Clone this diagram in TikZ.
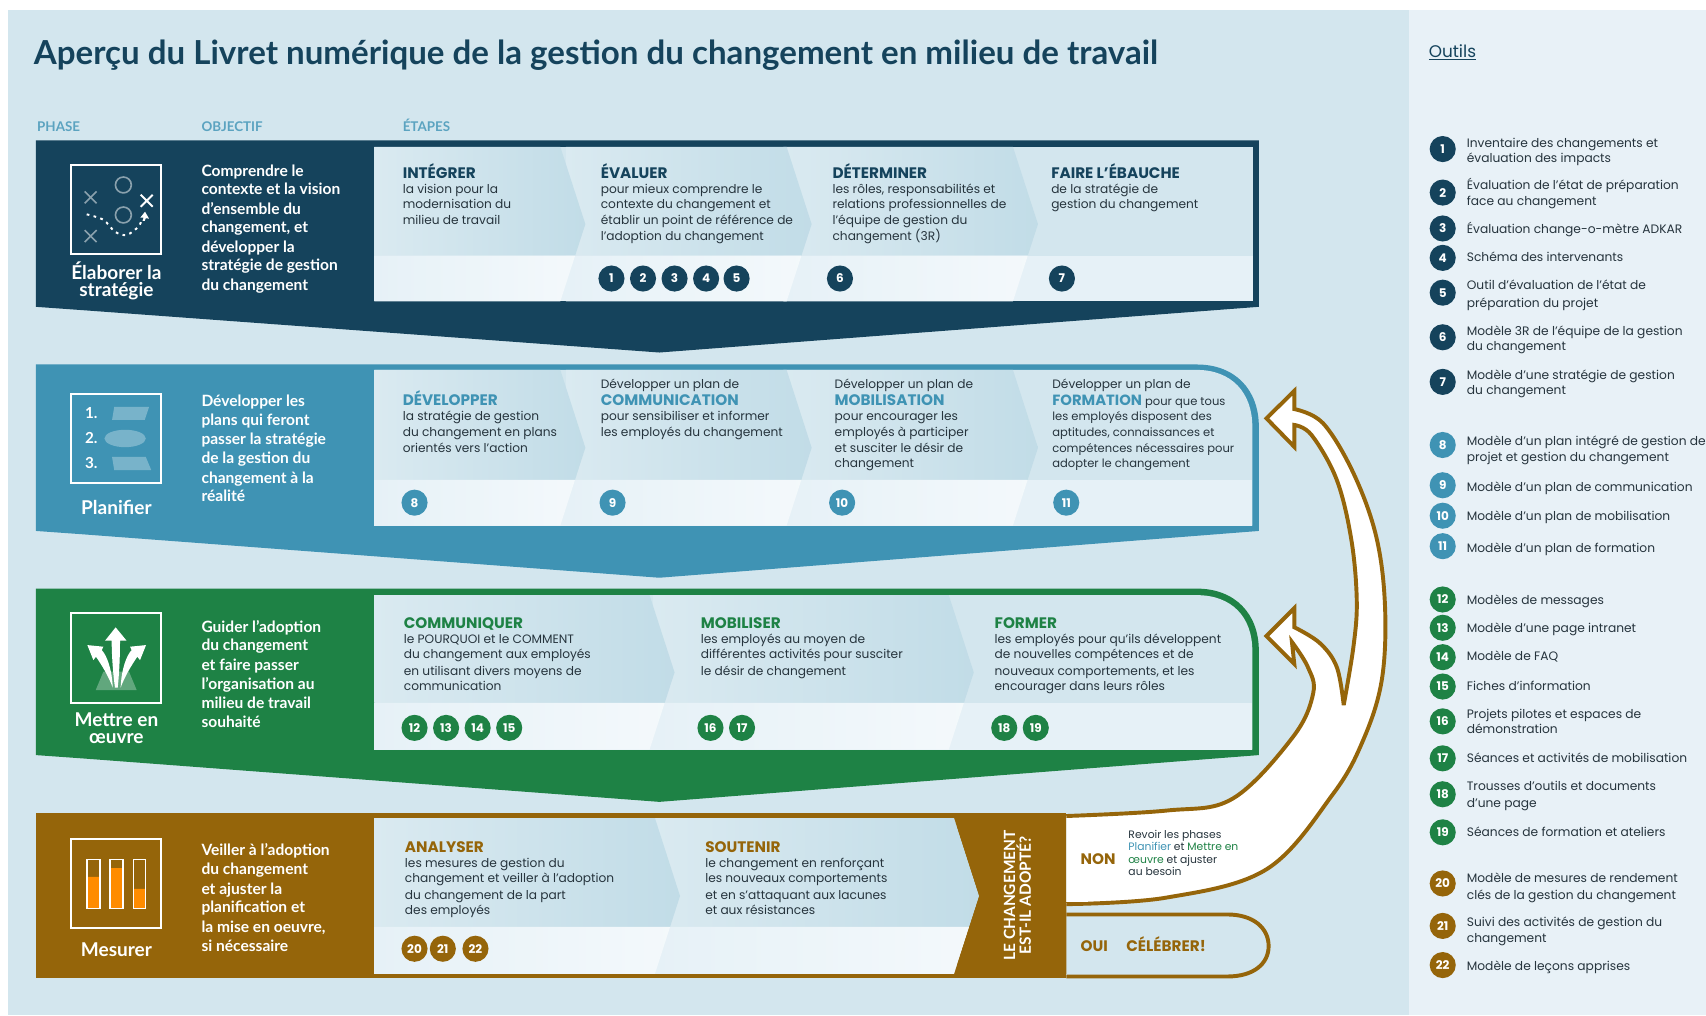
\documentclass[tikz,border=0pt]{standalone}
\usepackage{fontspec}
\setmainfont{Poppins}
\newfontfamily\lat{Lato}
\usetikzlibrary{shapes.geometric}
\definecolor{cdark}{HTML}{15435C}
\definecolor{cblue}{HTML}{3F93B4}
\definecolor{cgreen}{HTML}{1E8245}
\definecolor{cbrown}{HTML}{95650A}
\definecolor{cbg}{HTML}{D3E6EE}
\definecolor{cside}{HTML}{E8F1F7}
\definecolor{cstrip}{HTML}{E6F1F7}
\definecolor{chead}{HTML}{5BA3C0}
\definecolor{ctext}{HTML}{26343D}
\newcount\tn
\tikzset{
  txt/.style={anchor=mid west,inner sep=0pt,yshift=-1.7pt,font=\fontsize{11.2}{12}\selectfont,text=ctext},
  nar/.style={font=\fontsize{10.6}{12}\selectfont},
  hd/.style={yshift=-1.2pt,font=\fontsize{14}{14}\selectfont\bfseries},
  col/.style={font=\lat\fontsize{12.3}{14}\selectfont\bfseries,text=chead},
  obj/.style={yshift=-1.5pt,font=\lat\fontsize{14.3}{16}\selectfont\bfseries,text=white},
  phs/.style={anchor=center,inner sep=0pt,align=center,font=\lat\fontsize{17.5}{15.5}\selectfont\bfseries,text=white},
  bdg/.style={circle,fill=#1,text=white,inner sep=0pt,minimum size=24pt,font=\fontsize{11}{12}\selectfont\bfseries},
  tool/.style={font=\fontsize{11.25}{12}\selectfont},
  nonsm/.style={font=\fontsize{9.9}{10}\selectfont},
  ico/.style={draw=white,line width=2pt},
}
\newcommand\tx[4][]{\global\advance\tn by 1 \node[txt,#1] (t\the\tn) at (#2,#3) {#4};}
\newcommand\bd[4]{\global\advance\tn by 1 \node[bdg=#1] (t\the\tn) at (#2,#3) {#4};}
% section: xL xR top strip bottom
\newcommand\sect[5]{%
  \pgfmathsetmacro\mm{(#3+#5)/2}%
  \pgfmathsetmacro\tp{#2+23}%
  \pgfmathsetmacro\sx{#2+23*(#5-#4)/(#5-\mm)}%
  \shade[left color=white!16!cbg,middle color=white!2!cbg!96!black,right color=cbg!88!cblue] (#1,#3) -- (#2,#3) -- (\tp,\mm) -- (\sx,#4) -- (#1,#4) -- cycle;
  \shade[left color=cstrip,right color=white!55!cstrip] (#1,#4) -- (\sx,#4) -- (#2,#5) -- (#1,#5) -- cycle;
}
\begin{document}
\begin{tikzpicture}[x=1pt,y=-1pt]
\useasboundingbox (0,0) rectangle (1568,933);
\fill[white] (0,0) rectangle (1568,933);
\fill[cbg] (7,9) rectangle (1295,933);
\fill[cside] (1295,9) rectangle (1568,933);

% title and column heads
\tx[font=\lat\fontsize{30.4}{32}\selectfont\bfseries,text=cdark,yshift=-6.5pt]{31}{48}{Aperçu du Livret numérique de la gestion du changement en milieu de travail}
\tx[col]{34}{116}{PHASE}
\tx[col]{185}{116}{OBJECTIF}
\tx[col]{370}{116}{ÉTAPES}

% bands
\fill[cdark] (33,129) -- (1157,129) -- (1157,282) -- (606,324) -- (75,285) -- (33,282) -- cycle;
\fill[cblue] (33,335) -- (1100,335) .. controls (1135,335) and (1157,358) .. (1157,392) -- (1157,488) -- (606,531) -- (75,491) -- (33,488) -- cycle;
\fill[cgreen] (33,541) -- (1100,541) .. controls (1135,541) and (1157,564) .. (1157,598) -- (1157,694) -- (606,737) -- (75,697) -- (33,694) -- cycle;
\fill[cbrown] (33,747) rectangle (980,899);

% panels
\fill[cbg] (344,135) rectangle (1152,277);
\fill[cbg] (344,340) -- (1100,340) .. controls (1132,340) and (1151,361) .. (1151,392) -- (1151,483) -- (344,483) -- cycle;
\fill[cbg] (344,547) -- (1100,547) .. controls (1132,547) and (1151,567) .. (1151,598) -- (1151,689) -- (344,689) -- cycle;
\fill[cstrip] (344,235) rectangle (1152,277);
\fill[cstrip] (344,441) rectangle (1151,483);
\fill[cstrip] (344,646) rectangle (1151,689);

\sect{720}{931}{135}{235}{277}\sect{520}{723}{135}{235}{277}\sect{344}{515}{135}{235}{277}
\sect{720}{931}{340}{441}{483}\sect{520}{723}{340}{441}{483}\sect{344}{515}{340}{441}{483}
\sect{600}{872}{547}{646}{689}\sect{344}{597}{547}{646}{689}
\fill[cstrip] (344,852) rectangle (880,895);
\fill[cbg] (344,752) rectangle (880,852);
\sect{600}{877}{752}{852}{895}\sect{344}{602}{752}{852}{895}
\fill[cbrown] (877,752) -- (900,823.5) -- (877,895) -- (980,895) -- (980,752) -- cycle;

% icon 1
\draw[ico] (65.3,151.7) rectangle (148,233.8);
\draw[cdark!50!white,line width=1.5pt] (113.4,170) circle[radius=7.3] (113.4,197.6) circle[radius=7.3];
\draw[cdark!50!white,line width=1.5pt] (77.8,175.9) -- (88.8,186.9) (77.8,186.9) -- (88.8,175.9) (77.8,211.5) -- (88.8,222.5) (77.8,222.5) -- (88.8,211.5);
\draw[white,line width=1.8pt] (129.3,179) -- (140.3,190) (129.3,190) -- (140.3,179);
\draw[white,line width=1.8pt,dash pattern=on 2.5pt off 4pt] plot[smooth] coordinates {(79.7,197) (95,202) (105.7,213) (116.4,216) (127.2,208.4) (130.2,202)};
\fill[white] (133.3,194.6) -- (129,200) -- (132,200) -- (131,203) -- (133,203) -- (134,200.5) -- (137,201) -- cycle;
\node[phs] (plab1) at (107,258) {Élaborer la\\stratégie};

% icon 2
\draw[ico] (65.3,362) rectangle (148,444);
\tx[font=\lat\fontsize{14}{16}\selectfont\bfseries,text=white]{78}{380}{1.}
\tx[font=\lat\fontsize{14}{16}\selectfont\bfseries,text=white]{78}{403}{2.}
\tx[font=\lat\fontsize{14}{16}\selectfont\bfseries,text=white]{78}{426}{3.}
\fill[white,opacity=.3] (105,374) -- (137,374) -- (133,386) -- (103,386) -- cycle;
\fill[white,opacity=.3] (115,403) ellipse[x radius=19,y radius=8];
\fill[white,opacity=.3] (103,420) -- (134,420) -- (139,432) -- (105,432) -- cycle;
\node[phs] (plab2) at (107,466) {Planifier};

% icon 3
\draw[ico] (65.3,563.7) rectangle (148,646);
\fill[white,opacity=.3] (95,617.4) -- (118.6,617.4) -- (125.6,634.2) -- (88,634.2) -- cycle;
\fill[white] (106.3,576.6) -- (116.4,588.9) -- (110.3,588.9) .. controls (110.3,605) and (109.5,620) .. (108.2,632) -- (105.7,632) .. controls (104,620) and (102.8,605) .. (102.6,588.9) -- (96.5,588.9) -- cycle;
\fill[white] (80.3,592.9) -- (95,594.4) -- (93.5,597.5) .. controls (98,602) and (103,615) .. (103.6,632) .. controls (100,622) and (94,612) .. (88.2,603.6) -- (85.8,606.7) -- cycle;
\fill[white] (134.2,592.9) -- (119.5,594.4) -- (121,597.5) .. controls (116.5,602) and (111.5,615) .. (110.9,632) .. controls (114.5,622) and (120.5,612) .. (126.2,603.6) -- (128.7,606.7) -- cycle;
\node[phs] (plab3) at (107,669) {Mettre en\\œuvre};

% icon 4
\draw[ico] (65.3,771) rectangle (148,853);
\fill[orange!90!yellow] (80,806) rectangle (92,835) (101,798) rectangle (113,835) (123,817) rectangle (134,835);
\draw[white,line width=1.2pt] (80,790) rectangle (92,835) (101,790) rectangle (113,835) (123,790) rectangle (134,835);
\node[phs] (plab4) at (107,873) {Mesurer};

% objectives
\tx[obj]{185}{156}{Comprendre le}
\tx[obj]{185}{173}{contexte et la vision}
\tx[obj]{185}{191}{d’ensemble du}
\tx[obj]{185}{208}{changement, et}
\tx[obj]{185}{226}{développer la}
\tx[obj]{185}{243}{stratégie de gestion}
\tx[obj]{185}{261}{du changement}

\tx[obj]{185}{368}{Développer les}
\tx[obj]{185}{385}{plans qui feront}
\tx[obj]{185}{403}{passer la stratégie}
\tx[obj]{185}{420}{de la gestion du}
\tx[obj]{185}{438}{changement à la}
\tx[obj]{185}{455}{réalité}

\tx[obj]{185}{575}{Guider l’adoption}
\tx[obj]{185}{592}{du changement}
\tx[obj]{185}{610}{et faire passer}
\tx[obj]{185}{628}{l’organisation au}
\tx[obj]{185}{645}{milieu de travail}
\tx[obj]{185}{663}{souhaité}

\tx[obj]{185}{780}{Veiller à l’adoption}
\tx[obj]{185}{798}{du changement}
\tx[obj]{185}{816}{et ajuster la}
\tx[obj]{185}{833}{planification et}
\tx[obj]{185}{851}{la mise en oeuvre,}
\tx[obj]{185}{869}{si nécessaire}

% row 1 steps
\tx[hd,text=cdark]{370}{158}{INTÉGRER}
\tx{370}{173}{la vision pour la}
\tx{370}{187.5}{modernisation du}
\tx{370}{202}{milieu de travail}
\tx[hd,text=cdark]{552}{158}{ÉVALUER}
\tx{552}{173}{pour mieux comprendre le}
\tx{552}{187.5}{contexte du changement et}
\tx{552}{202}{établir un point de référence de}
\tx{552}{216.5}{l’adoption du changement}
\tx[hd,text=cdark]{765}{158}{DÉTERMINER}
\tx{765}{173}{les rôles, responsabilités et}
\tx{765}{187.5}{relations professionnelles de}
\tx{765}{202}{l’équipe de gestion du}
\tx{765}{216.5}{changement (3R)}
\tx[hd,text=cdark]{966}{158}{FAIRE L’ÉBAUCHE}
\tx{966}{173}{de la stratégie de}
\tx{966}{187.5}{gestion du changement}
\bd{cdark}{562}{256}{1}\bd{cdark}{591}{256}{2}\bd{cdark}{620}{256}{3}\bd{cdark}{649}{256}{4}\bd{cdark}{677}{256}{5}
\bd{cdark}{772}{256}{6}\bd{cdark}{976}{256}{7}

% row 2 steps
\tx[hd,text=cblue]{370}{367}{DÉVELOPPER}
\tx{370}{382}{la stratégie de gestion}
\tx{370}{396.5}{du changement en plans}
\tx{370}{411}{orientés vers l’action}
\tx{552}{353}{Développer un plan de}
\tx[hd,text=cblue]{552}{367}{COMMUNICATION}
\tx{552}{382}{pour sensibiliser et informer}
\tx{552}{396.5}{les employés du changement}
\tx{767}{353}{Développer un plan de}
\tx[hd,text=cblue]{767}{367}{MOBILISATION}
\tx{767}{382}{pour encourager les}
\tx{767}{396.5}{employés à participer}
\tx{767}{411}{et susciter le désir de}
\tx{767}{425}{changement}
\tx{967}{353}{Développer un plan de}
\tx[nar]{967}{368}{{\fontsize{13.6}{14}\selectfont\bfseries\color{cblue}FORMATION} pour que tous}
\tx[nar]{967}{382}{les employés disposent des}
\tx[nar]{967}{396.5}{aptitudes, connaissances et}
\tx[nar]{967}{411}{compétences nécessaires pour}
\tx[nar]{967}{425}{adopter le changement}
\bd{cblue}{381}{462}{8}\bd{cblue}{563}{462}{9}\bd{cblue}{774}{462}{10}\bd{cblue}{980}{462}{11}

% row 3 steps
\tx[hd,text=cgreen]{371}{572}{COMMUNIQUER}
\tx{371}{587}{le POURQUOI et le COMMENT}
\tx{371}{601}{du changement aux employés}
\tx{371}{616}{en utilisant divers moyens de}
\tx{371}{630}{communication}
\tx[hd,text=cgreen]{644}{572}{MOBILISER}
\tx{644}{587}{les employés au moyen de}
\tx{644}{601}{différentes activités pour susciter}
\tx{644}{616}{le désir de changement}
\tx[hd,text=cgreen]{914}{572}{FORMER}
\tx{914}{587}{les employés pour qu’ils développent}
\tx{914}{601}{de nouvelles compétences et de}
\tx{914}{616}{nouveaux comportements, et les}
\tx{914}{630}{encourager dans leurs rôles}
\bd{cgreen}{381}{669}{12}\bd{cgreen}{410}{669}{13}\bd{cgreen}{439}{669}{14}\bd{cgreen}{468}{669}{15}
\bd{cgreen}{653}{669}{16}\bd{cgreen}{682}{669}{17}\bd{cgreen}{923}{669}{18}\bd{cgreen}{952}{669}{19}

% row 4 steps
\tx[hd,text=cbrown]{372}{778}{ANALYSER}
\tx{372}{793}{les mesures de gestion du}
\tx{372}{807}{changement et veiller à l’adoption}
\tx{372}{822}{du changement de la part}
\tx{372}{836}{des employés}
\tx[hd,text=cbrown]{648}{778}{SOUTENIR}
\tx{648}{793}{le changement en renforçant}
\tx{648}{807}{les nouveaux comportements}
\tx{648}{822}{et en s’attaquant aux lacunes}
\tx{648}{836}{et aux résistances}
\bd{cbrown}{381}{872}{20}\bd{cbrown}{407}{872}{21}\bd{cbrown}{437}{872}{22}

\node[rotate=90,inner sep=0pt,align=center,text=white,font=\lat\fontsize{14.2}{14.5}\selectfont\bfseries] (qq) at (935,823) {LE CHANGEMENT\\EST-IL ADOPTÉ?};

% OUI tab
\draw[cbrown,line width=3.6pt] (980,840.5) -- (1128,840.5) .. controls (1152,840.5) and (1166,853) .. (1166,869.5) .. controls (1166,886) and (1152,897.5) .. (1128,897.5) -- (980,897.5);

% big white arrow
\draw[cbrown,line width=3.6pt,line join=miter,fill=white,miter limit=6]
  plot[smooth,tension=.6] coordinates {(980,831) (1072,825) (1164,799) (1225,730) (1253,680) (1270,625) (1273,558) (1265,493.6) (1244,435) (1216,389) (1189.6,376)}
  -- (1189.6,359.3) -- (1164,384.5) -- (1189.6,410.7) -- (1189.6,390.6)
  -- plot[smooth,tension=.6] coordinates {(1189.6,390.6) (1205.6,400) (1228.6,441) (1242,496) (1247,551.5) (1244,594) (1235,648)}
  -- plot[smooth,tension=.6] coordinates {(1235,648) (1228.6,613) (1213,591) (1189.6,576.5)}
  -- (1189.6,559) -- (1164,584.6) -- (1189.6,610.3) -- (1187.4,590)
  -- plot[smooth,tension=.6] coordinates {(1187.4,590) (1202,613) (1207,637) (1188.6,677) (1133,734) (1072,745) (980,750)};
\fill[white] (981,752) rectangle (1000,829);

\tx[hd,text=cbrown]{993}{789}{NON}
\tx[nonsm]{1037}{766}{Revoir les phases}
\tx[nonsm]{1037}{777.5}{\textcolor{cblue}{Planifier} et \textcolor{cgreen}{Mettre en}}
\tx[nonsm]{1037}{789}{\textcolor{cgreen}{œuvre} et ajuster}
\tx[nonsm]{1037}{800}{au besoin}
\tx[hd,text=cbrown]{993}{869}{OUI}
\tx[hd,text=cbrown]{1035}{869}{CÉLÉBRER!}

% tools
\tx[font=\fontsize{15.5}{16}\selectfont,text=cdark,yshift=-1pt]{1313}{47}{\underline{Outils}}
\bd{cdark}{1326}{137}{1}\tx[tool]{1348}{131}{Inventaire des changements et}\tx[tool]{1348}{145}{évaluation des impacts}
\bd{cdark}{1326}{177}{2}\tx[tool]{1348}{170}{Évaluation de l’état de préparation}\tx[tool]{1348}{184}{face au changement}
\bd{cdark}{1326}{210}{3}\tx[tool]{1348}{210}{Évaluation change-o-mètre ADKAR}
\bd{cdark}{1326}{237}{4}\tx[tool]{1348}{236}{Schéma des intervenants}
\bd{cdark}{1326}{269}{5}\tx[tool]{1348}{262}{Outil d’évaluation de l’état de}\tx[tool]{1348}{278}{préparation du projet}
\bd{cdark}{1326}{310}{6}\tx[tool]{1348}{304}{Modèle 3R de l’équipe de la gestion}\tx[tool]{1348}{318}{du changement}
\bd{cdark}{1326}{351}{7}\tx[tool]{1348}{344}{Modèle d’une stratégie de gestion}\tx[tool]{1348}{358}{du changement}
\bd{cblue}{1326}{409}{8}\tx[tool]{1348}{405}{Modèle d’un plan intégré de gestion de}\tx[tool]{1348}{420}{projet et gestion du changement}
\bd{cblue}{1326}{446}{9}\tx[tool]{1348}{447}{Modèle d’un plan de communication}
\bd{cblue}{1326}{474}{10}\tx[tool]{1348}{474}{Modèle d’un plan de mobilisation}
\bd{cblue}{1326}{502}{11}\tx[tool]{1348}{503}{Modèle d’un plan de formation}
\bd{cgreen}{1326}{551}{12}\tx[tool]{1348}{551}{Modèles de messages}
\bd{cgreen}{1326}{577}{13}\tx[tool]{1348}{577}{Modèle d’une page intranet}
\bd{cgreen}{1326}{604}{14}\tx[tool]{1348}{603}{Modèle de FAQ}
\bd{cgreen}{1326}{631}{15}\tx[tool]{1348}{630}{Fiches d’information}
\bd{cgreen}{1326}{663}{16}\tx[tool]{1348}{656}{Projets pilotes et espaces de}\tx[tool]{1348}{670}{démonstration}
\bd{cgreen}{1326}{697}{17}\tx[tool]{1348}{696}{Séances et activités de mobilisation}
\bd{cgreen}{1326}{730}{18}\tx[tool]{1348}{722}{Trousses d’outils et documents}\tx[tool]{1348}{738}{d’une page}
\bd{cgreen}{1326}{765}{19}\tx[tool]{1348}{764}{Séances de formation et ateliers}
\bd{cbrown}{1326}{812}{20}\tx[tool]{1348}{807}{Modèle de mesures de rendement}\tx[tool]{1348}{822}{clés de la gestion du changement}
\bd{cbrown}{1326}{851}{21}\tx[tool]{1348}{847}{Suivi des activités de gestion du}\tx[tool]{1348}{862}{changement}
\bd{cbrown}{1326}{887}{22}\tx[tool]{1348}{888}{Modèle de leçons apprises}
\end{tikzpicture}
\end{document}
